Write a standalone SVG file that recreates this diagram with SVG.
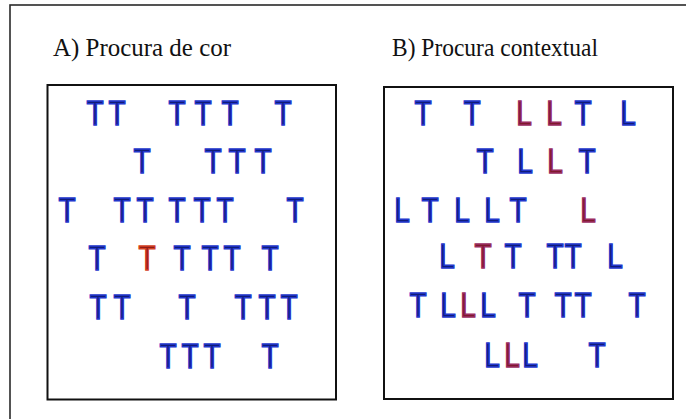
<svg xmlns="http://www.w3.org/2000/svg" width="686" height="419" viewBox="0 0 686 419">
<style>
.frame{fill:none;stroke:#2a2a2a;stroke-width:1.6}
.panel{fill:#fff;stroke:#111;stroke-width:2}
.title{font-family:"Liberation Serif","Times New Roman",serif;font-size:24.5px;fill:#111}
.ltr text{font-family:"Liberation Sans",Arial,sans-serif;font-size:35px;text-anchor:middle;fill:#101c78;stroke:#2236cc;stroke-width:1.5}
.ltr text.red{fill:#8e1a1a;stroke:#d2401e}
.ltr text.pur{fill:#7e1a2c;stroke:#9a2c60}
</style>
<rect width="686" height="419" fill="#fff"/>
<rect class="frame" x="10" y="5" width="700" height="450"/>
<g id="title-a"><text class="title" x="53" y="56" textLength="178" lengthAdjust="spacingAndGlyphs">A) Procura de cor</text></g>
<g id="title-b"><text class="title" x="392" y="56" textLength="206" lengthAdjust="spacingAndGlyphs">B) Procura contextual</text></g>
<g id="panel-a">
<rect class="panel" x="47.5" y="85" width="288.5" height="314.5"/>
<g class="ltr">
<text transform="translate(95 125) scale(0.8 1)">T</text>
<text transform="translate(117 125) scale(0.8 1)">T</text>
<text transform="translate(177 125) scale(0.8 1)">T</text>
<text transform="translate(203 125) scale(0.8 1)">T</text>
<text transform="translate(230 125) scale(0.8 1)">T</text>
<text transform="translate(283 125) scale(0.8 1)">T</text>
<text transform="translate(142 173) scale(0.8 1)">T</text>
<text transform="translate(213 173) scale(0.8 1)">T</text>
<text transform="translate(237 173) scale(0.8 1)">T</text>
<text transform="translate(263 173) scale(0.8 1)">T</text>
<text transform="translate(67 221.5) scale(0.8 1)">T</text>
<text transform="translate(122 221.5) scale(0.8 1)">T</text>
<text transform="translate(145 221.5) scale(0.8 1)">T</text>
<text transform="translate(177 221.5) scale(0.8 1)">T</text>
<text transform="translate(202 221.5) scale(0.8 1)">T</text>
<text transform="translate(225 221.5) scale(0.8 1)">T</text>
<text transform="translate(295 221.5) scale(0.8 1)">T</text>
<text transform="translate(97 270) scale(0.8 1)">T</text>
<text class="red" transform="translate(147 270) scale(0.8 1)">T</text>
<text transform="translate(182 270) scale(0.8 1)">T</text>
<text transform="translate(210 270) scale(0.8 1)">T</text>
<text transform="translate(232 270) scale(0.8 1)">T</text>
<text transform="translate(270 270) scale(0.8 1)">T</text>
<text transform="translate(98 319) scale(0.8 1)">T</text>
<text transform="translate(122 319) scale(0.8 1)">T</text>
<text transform="translate(187 319) scale(0.8 1)">T</text>
<text transform="translate(243 319) scale(0.8 1)">T</text>
<text transform="translate(267 319) scale(0.8 1)">T</text>
<text transform="translate(289 319) scale(0.8 1)">T</text>
<text transform="translate(168 368) scale(0.8 1)">T</text>
<text transform="translate(190 368) scale(0.8 1)">T</text>
<text transform="translate(212 368) scale(0.8 1)">T</text>
<text transform="translate(270 368) scale(0.8 1)">T</text>
</g>
</g>
<g id="panel-b">
<rect class="panel" x="384" y="87" width="289" height="312"/>
<g class="ltr">
<text transform="translate(423 125) scale(0.8 1)">T</text>
<text transform="translate(472 125) scale(0.8 1)">T</text>
<text class="pur" transform="translate(524 125) scale(0.8 1)">L</text>
<text class="pur" transform="translate(554 125) scale(0.8 1)">L</text>
<text transform="translate(583 125) scale(0.8 1)">T</text>
<text transform="translate(628 125) scale(0.8 1)">L</text>
<text transform="translate(485 173) scale(0.8 1)">T</text>
<text transform="translate(525 173) scale(0.8 1)">L</text>
<text class="pur" transform="translate(555 173) scale(0.8 1)">L</text>
<text transform="translate(587 173) scale(0.8 1)">T</text>
<text transform="translate(402 221.5) scale(0.8 1)">L</text>
<text transform="translate(430 221.5) scale(0.8 1)">T</text>
<text transform="translate(462 221.5) scale(0.8 1)">L</text>
<text transform="translate(492 221.5) scale(0.8 1)">L</text>
<text transform="translate(518 221.5) scale(0.8 1)">T</text>
<text class="pur" transform="translate(588 221.5) scale(0.8 1)">L</text>
<text transform="translate(447 268) scale(0.8 1)">L</text>
<text class="pur" transform="translate(483 268) scale(0.8 1)">T</text>
<text transform="translate(513 268) scale(0.8 1)">T</text>
<text transform="translate(555 268) scale(0.8 1)">T</text>
<text transform="translate(573 268) scale(0.8 1)">T</text>
<text transform="translate(615 268) scale(0.8 1)">L</text>
<text transform="translate(418 317) scale(0.8 1)">T</text>
<text transform="translate(448 317) scale(0.8 1)">L</text>
<text class="pur" transform="translate(468 317) scale(0.8 1)">L</text>
<text transform="translate(488 317) scale(0.8 1)">L</text>
<text transform="translate(527 317) scale(0.8 1)">T</text>
<text transform="translate(563 317) scale(0.8 1)">T</text>
<text transform="translate(583 317) scale(0.8 1)">T</text>
<text transform="translate(637 317) scale(0.8 1)">T</text>
<text transform="translate(492 367) scale(0.8 1)">L</text>
<text class="pur" transform="translate(512 367) scale(0.8 1)">L</text>
<text transform="translate(530 367) scale(0.8 1)">L</text>
<text transform="translate(597 367) scale(0.8 1)">T</text>
</g>
</g>
</svg>
